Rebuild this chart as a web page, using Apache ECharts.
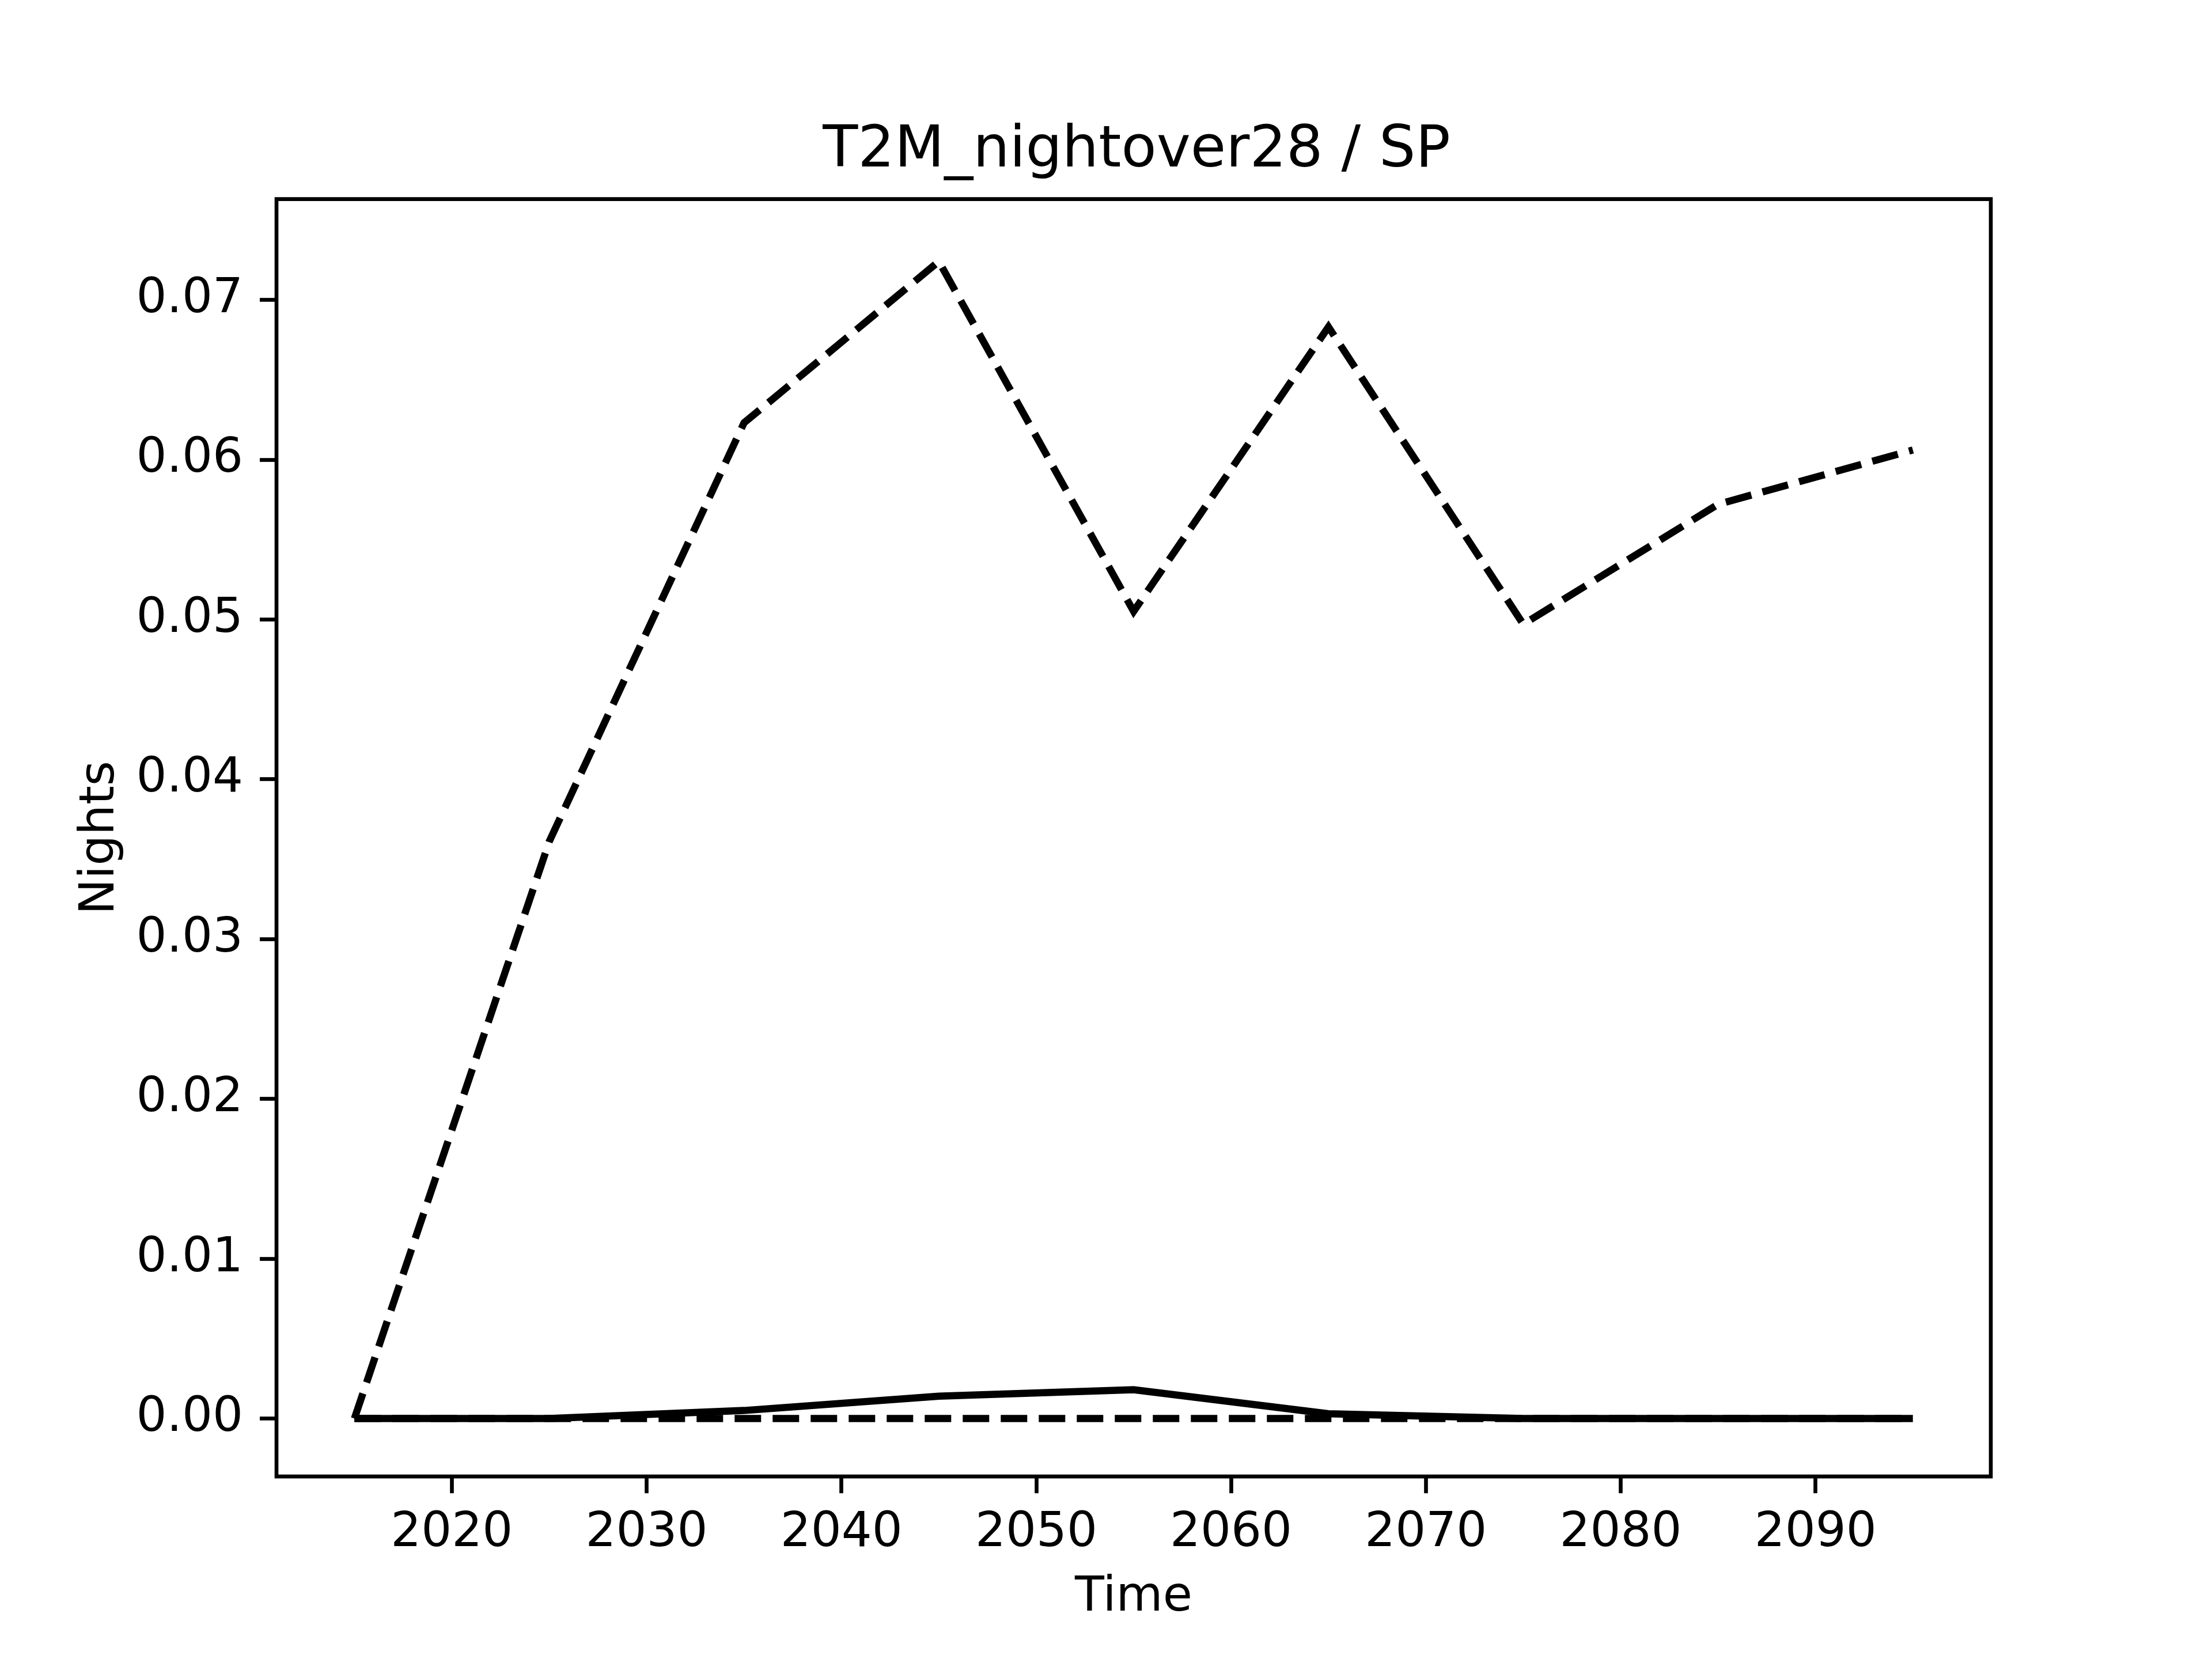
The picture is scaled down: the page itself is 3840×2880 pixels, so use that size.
<!DOCTYPE html>
<html>
<head>
<meta charset="utf-8">
<script src="https://cdn.jsdelivr.net/npm/echarts@6/dist/echarts.min.js"></script>
<style>
html,body{margin:0;padding:0;background:#fff;}
#chart{width:3840px;height:2880px;}
</style>
</head>
<body>
<div id="chart"></div>
<script>
const years = [2015, 2025, 2035, 2045, 2055, 2065, 2075, 2085, 2095];
const solidSeries = [0, 0, 0.0005, 0.0014, 0.0018, 0.0003, 0.0000, 0.0000, 0.0000];
const dashedHigh = [0, 0.0361, 0.0623, 0.0724, 0.0505, 0.0683, 0.0497, 0.0572, 0.0606];
const dashedZero = [0, 0, 0, 0, 0, 0, 0, 0, 0];
const xTicks = [2020, 2030, 2040, 2050, 2060, 2070, 2080, 2090];
const yTicks = [0, 0.01, 0.02, 0.03, 0.04, 0.05, 0.06, 0.07];

const pair = (arr) => years.map((y, i) => [y, arr[i]]);
const FONT = 'DejaVu Sans';
const lw = 12.5;
const dash = [46, 20];

const chart = echarts.init(document.getElementById('chart'), null, {renderer: 'canvas'});
chart.setOption({
  animation: false,
  backgroundColor: '#ffffff',
  title: {
    text: 'T2M_nightover28 / SP',
    left: 1968,
    top: 208,
    textAlign: 'center',
    textStyle: {fontFamily: FONT, fontSize: 100, fontWeight: 'normal', color: '#000'}
  },
  grid: {
    left: 480, right: 384, top: 345.6, bottom: 316.8,
    show: true, borderColor: '#000', borderWidth: 6.67, backgroundColor: 'transparent',
    containLabel: false
  },
  xAxis: {
    type: 'value',
    min: 2011, max: 2099,
    name: 'Time',
    nameLocation: 'middle',
    nameGap: 170,
    nameTextStyle: {fontFamily: FONT, fontSize: 83.3, color: '#000'},
    axisLine: {show: false, onZero: false},
    splitLine: {show: false},
    axisTick: {show: true, inside: false, length: 29, customValues: xTicks, lineStyle: {color: '#000', width: 6.67}},
    axisLabel: {show: true, margin: 58, customValues: xTicks, fontFamily: FONT, fontSize: 83.3, color: '#000',
      formatter: (v) => String(v)}
  },
  yAxis: {
    type: 'value',
    min: -0.00363, max: 0.0763,
    name: 'Nights',
    nameLocation: 'middle',
    nameGap: 263,
    nameTextStyle: {fontFamily: FONT, fontSize: 83.3, color: '#000'},
    axisLine: {show: false, onZero: false},
    splitLine: {show: false},
    axisTick: {show: true, inside: false, length: 29, customValues: yTicks, lineStyle: {color: '#000', width: 6.67}},
    axisLabel: {show: true, margin: 58, customValues: yTicks, fontFamily: FONT, fontSize: 83.3, color: '#000',
      formatter: (v) => v.toFixed(2)}
  },
  series: [
    {
      type: 'line', data: pair(solidSeries), showSymbol: false, symbol: 'none',
      lineStyle: {color: '#000', width: lw, type: 'solid', cap: 'butt', join: 'miter'}
    },
    {
      type: 'line', data: pair(dashedHigh), showSymbol: false, symbol: 'none',
      lineStyle: {color: '#000', width: lw, type: dash, cap: 'butt', join: 'miter'}
    },
    {
      type: 'line', data: pair(dashedZero), showSymbol: false, symbol: 'none',
      lineStyle: {color: '#000', width: lw, type: dash, cap: 'butt', join: 'miter'}
    }
  ]
});
</script>
</body>
</html>
